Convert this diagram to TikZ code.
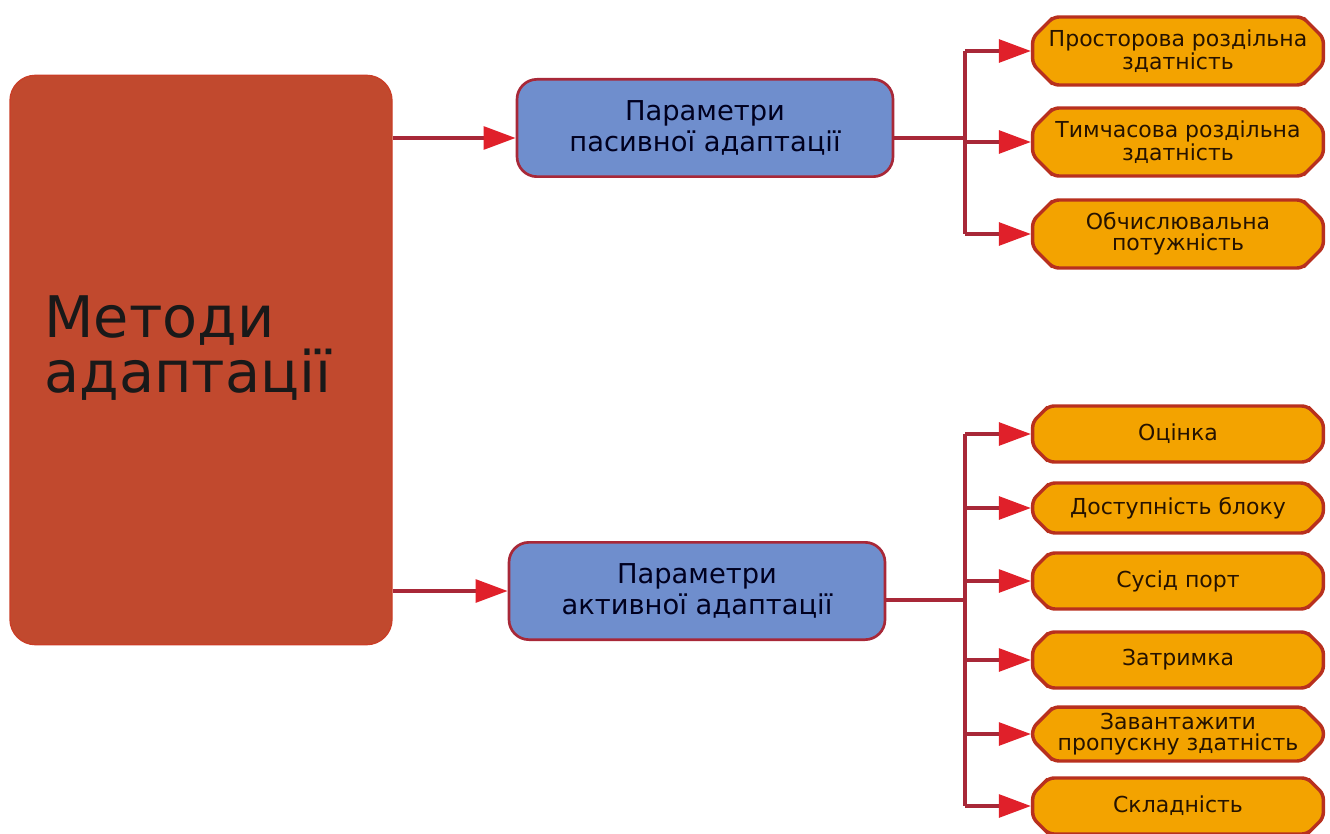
\documentclass[tikz,border=0pt]{standalone}
\usepackage{fontspec}
\setmainfont{DejaVu Sans}
\usetikzlibrary{arrows.meta,shapes.misc,positioning}

\definecolor{methodred}{HTML}{C1492E}
\definecolor{paramblue}{HTML}{6F8ECD}
\definecolor{itemorange}{HTML}{F3A300}
\definecolor{edgered}{HTML}{B8301E}
\definecolor{linkred}{HTML}{A82838}
\definecolor{tipred}{HTML}{E0202A}

\tikzset{
    mainbox/.style={fill=methodred, draw=methodred!85!red, line width=1pt, rounded corners=19pt,
        minimum width=286.5pt, minimum height=427pt},
    maintext/.style={font=\fontsize{43}{41}\selectfont, text=black!90, align=left, inner sep=0pt},
    parambox/.style={fill=paramblue, draw=linkred, line width=2pt, rounded corners=15pt,
        minimum width=282pt, minimum height=73pt, align=center, text=black!80!blue!60!black,
        font=\fontsize{20.5}{23}\selectfont},
    itembox/.style={chamfered rectangle, chamfered rectangle xsep=12pt, fill=itemorange, draw=edgered,
        line width=2.6pt, rounded corners=4pt, minimum width=218pt, minimum height=42pt,
        inner xsep=0pt, inner ysep=1pt,
        align=center, text=black!85!orange, font=\fontsize{16.5}{15.5}\selectfont},
    link/.style={draw=linkred, line width=2.8pt},
    arrowlink/.style={link, -{Triangle[length=24pt,width=17pt,color=tipred]}}
}

\begin{document}
\begin{tikzpicture}[x=0.75pt,y=-0.75pt]
    \useasboundingbox (0,0) rectangle (1330,834);

    % left block
    \node [mainbox] (methods) at (201,360) {};
    \node [maintext, right=26pt of methods.west, yshift=9pt] (methodstext) {Методи\\адаптації};

    % parameter groups
    \node [parambox] (passive) at (705,128) {Параметри\\пасивної адаптації};
    \node [parambox] (active) at (697,591) {Параметри\\активної адаптації};

    % passive items
    \node [itembox, minimum height=51pt] (spatial) at (1178,51) {Просторова роздільна\\здатність};
    \node [itembox, minimum height=51pt] (temporal) at (1178,142) {Тимчасова роздільна\\здатність};
    \node [itembox, minimum height=51pt] (compute) at (1178,234) {Обчислювальна\\потужність};

    % active items
    \node [itembox] (estimate) at (1178,434) {Оцінка};
    \node [itembox, minimum height=37.5pt] (blockavail) at (1178,508) {Доступність блоку};
    \node [itembox] (neighbour) at (1178,581) {Сусід порт};
    \node [itembox] (delay) at (1178,660) {Затримка};
    \node [itembox, minimum height=37.5pt] (bandwidth) at (1178,734) {Завантажити\\пропускну здатність};
    \node [itembox] (complexity) at (1178,806) {Складність};

    \coordinate (pin) at ([yshift=-7.5pt]passive.west);
    \coordinate (pout) at ([yshift=-7.5pt]passive.east);
    \coordinate (aout) at ([yshift=-6.75pt]active.east);
    \coordinate (bus) at (965,0);

    \draw [arrowlink] (methods.east |- pin) -- (pin);
    \draw [arrowlink] (methods.east |- active.west) -- (active.west);

    \draw [link] (pout) -- (bus |- pout);
    \draw [link] (bus |- spatial.west) -- (bus |- compute.west);
    \foreach \n in {spatial,temporal,compute}
        \draw [arrowlink] (bus |- \n.west) -- (\n.west);

    \draw [link] (aout) -- (bus |- aout);
    \draw [link] (bus |- estimate.west) -- (bus |- complexity.west);
    \foreach \n in {estimate,blockavail,neighbour,delay,bandwidth,complexity}
        \draw [arrowlink] (bus |- \n.west) -- (\n.west);
\end{tikzpicture}
\end{document}
